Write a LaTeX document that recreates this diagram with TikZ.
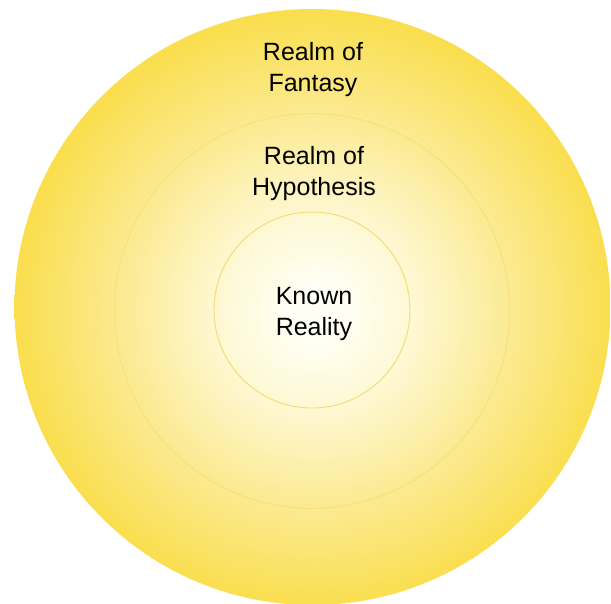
\documentclass[tikz,border=0pt]{standalone}
\usepackage{fontspec}
\setmainfont{Liberation Sans}
\definecolor{cW}{RGB}{255,255,246}
\definecolor{cA}{RGB}{254,248,212}
\definecolor{cB}{RGB}{251,234,145}
\definecolor{cY}{RGB}{250,222,78}
\definecolor{ringA}{RGB}{240,222,110}
\definecolor{ringB}{RGB}{245,226,120}
\pgfdeclareradialshading{glow}{\pgfpoint{0.3bp}{-0.5bp}}{color(0bp)=(cW); color(2bp)=(cW); color(8bp)=(cA); color(16.5bp)=(cB); color(25bp)=(cY); color(50bp)=(cY)}
\tikzset{
  ring/.style={line width=0.9pt},
  lbl/.style={font=\fontsize{25}{31}\selectfont, align=center, anchor=base, inner sep=0pt, text=black}
}
\begin{document}
\begin{tikzpicture}[x=1pt, y=-1pt]
\useasboundingbox (0,0) rectangle (611,603);
\fill[white] (0,0) rectangle (611,603);
\shade[shading=glow] (312.5,307) circle[radius=298];
\node[circle, draw=ringB, ring, minimum size=395pt, inner sep=0pt] (hyp) at (312,311) {};
\node[circle, draw=ringA, ring, minimum size=196pt, inner sep=0pt] (known) at (312,310) {};
\node[lbl] (tf) at (313,91) {Realm of\\Fantasy};
\node[lbl] (th) at (314,195) {Realm of\\Hypothesis};
\node[lbl] (tk) at (314,335) {Known\\Reality};
\end{tikzpicture}
\end{document}
